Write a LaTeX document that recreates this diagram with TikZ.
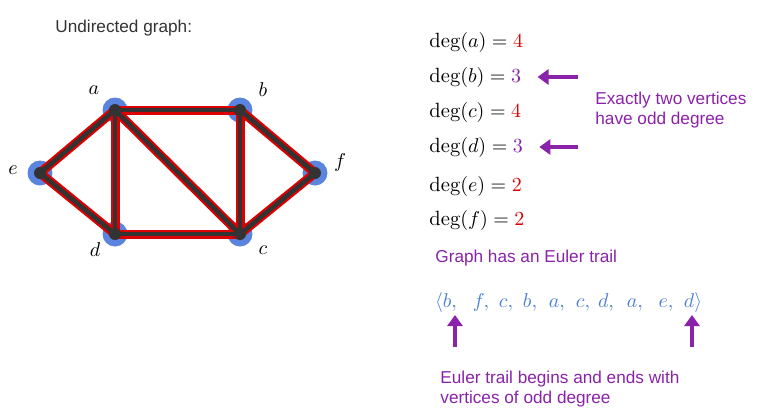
\documentclass[tikz,border=0pt]{standalone}
\usepackage{fontspec}
\newfontfamily\labelfont{Liberation Sans}
\usetikzlibrary{arrows.meta}
\definecolor{vblue}{HTML}{5B84DE}
\definecolor{edgered}{HTML}{DD0000}
\definecolor{edgedark}{HTML}{333333}
\definecolor{oddpurple}{HTML}{8A22AA}
\definecolor{trailblue}{HTML}{4A7FD6}
\tikzset{
  vertex/.style = {circle, fill=vblue, minimum size=12.5pt, inner sep=0},
  dot/.style = {circle, fill=edgedark, minimum size=6pt, inner sep=0},
  vlabel/.style = {font=\fontsize{10.3}{12}\selectfont},
  note/.style = {font=\labelfont\fontsize{8.6}{10}\selectfont, text=oddpurple, align=left, anchor=west, inner sep=0},
  degline/.style = {font=\fontsize{10.3}{12}\selectfont, anchor=west, inner sep=0},
  trail/.style = {font=\fontsize{10.3}{12}\selectfont, text=trailblue, inner sep=0, anchor=base},
  oddarrow/.style = {oddpurple, line width=2pt, -{Triangle[width=7.5pt,length=5.5pt]}}
}
\begin{document}
\begin{tikzpicture}[x=0.5pt, y=-0.5pt]
  \useasboundingbox (0,0) rectangle (757,419);
  \node[font=\labelfont\fontsize{8.6}{10}\selectfont, text=edgedark, anchor=west, inner sep=0] (title) at (55,28) {Undirected graph:};
  % vertices
  \node[vertex] (a) at (115,110) {};
  \node[vertex] (b) at (240,110) {};
  \node[vertex] (c) at (240,234) {};
  \node[vertex] (d) at (115,234) {};
  \node[vertex] (e) at (40,173) {};
  \node[vertex] (f) at (315,173) {};
  % edges
  \foreach \u/\v in {a/b, a/d, a/c, a/e, b/c, b/f, c/d, c/f, d/e}
    \draw[edgered, line width=4.5pt] (\u.center) -- (\v.center);
  \foreach \u/\v in {a/b, a/d, a/c, a/e, b/c, b/f, c/d, c/f, d/e}
    \draw[edgedark, line width=2.3pt] (\u.center) -- (\v.center);
  \foreach \v in {a,b,c,d,e,f}
    \node[dot] (\v dot) at (\v) {};
  % vertex names
  \node[vlabel] (la) at (94,90) {$a$};
  \node[vlabel] (lb) at (263,90) {$b$};
  \node[vlabel] (lc) at (263,250) {$c$};
  \node[vlabel] (ld) at (95,250) {$d$};
  \node[vlabel] (le) at (13,170) {$e$};
  \node[vlabel] (lf) at (340,162) {$f$};
  % degrees
  \node[degline] (dega) at (429,42) {$\deg(a) = \textcolor{edgered}{4}$};
  \node[degline] (degb) at (429,77) {$\deg(b) = \textcolor{oddpurple}{3}$};
  \node[degline] (degc) at (429,112) {$\deg(c) = \textcolor{edgered}{4}$};
  \node[degline] (degd) at (429,147) {$\deg(d) = \textcolor{oddpurple}{3}$};
  \node[degline] (dege) at (429,186) {$\deg(e) = \textcolor{edgered}{2}$};
  \node[degline] (degf) at (429,220) {$\deg(f) = \textcolor{edgered}{2}$};
  \coordinate (pb) at (578,77);
  \coordinate (pd) at (578,147);
  \draw[oddarrow] (pb) -- ([xshift=8pt]degb.east);
  \draw[oddarrow] (pd) -- ([xshift=8pt]degd.east);
  \node[note] (odd) at (595,110) {Exactly two vertices\\have odd degree};
  % euler trail
  \node[note] (has) at (435,258) {Graph has an Euler trail};
  \node[trail] (t1) at (446,307) {$\langle b,$};
  \foreach \x/\v [count=\i from 2] in {481/f, 506/c, 530/b, 557/a, 583/c, 606/d, 635/a, 666/e}
    \node[trail] (t\i) at (\x,307) {$\v,$};
  \node[trail] (t10) at (693,307) {$d\rangle$};
  \coordinate (qb) at (455,347);
  \coordinate (qd) at (692,347);
  \draw[oddarrow] (qb) -- ++(0,-32);
  \draw[oddarrow] (qd) -- ++(0,-32);
  \node[note] (ends) at (440,389) {Euler trail begins and ends with\\vertices of odd degree};
\end{tikzpicture}
\end{document}
